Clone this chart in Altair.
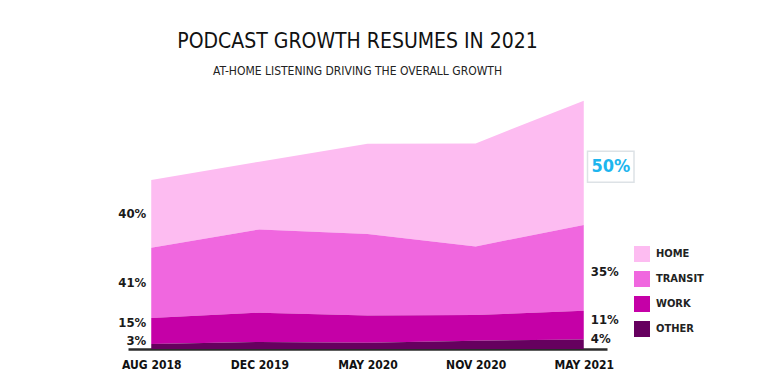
import altair as alt
import pandas as pd

periods = ["AUG 2018", "DEC 2019", "MAY 2020", "NOV 2020", "MAY 2021"]
series = ["HOME", "TRANSIT", "WORK", "OTHER"]
home = [67.7, 67.7, 90.3, 103.0, 124.3]
transit = [70.3, 83.3, 81.4, 68.6, 85.7]
work = [26.0, 29.3, 27.3, 25.7, 28.7]
other = [5.0, 7.0, 6.3, 8.3, 9.6]
colors = ["#FDBCF1", "#F067DF", "#C500A7", "#66005F"]

left_labels = ["40%", "41%", "15%", "3%"]
right_labels = ["50%", "35%", "11%", "4%"]

FONT = "'DejaVu Sans Condensed', 'DejaVu Sans', sans-serif"

vals = {"HOME": home, "TRANSIT": transit, "WORK": work, "OTHER": other}
stack_order = {"OTHER": 0, "WORK": 1, "TRANSIT": 2, "HOME": 3}

rows = []
for s in series:
    for i, p in enumerate(periods):
        rows.append({"period": p, "series": s, "value": vals[s][i], "ord": stack_order[s]})
df = pd.DataFrame(rows)

def mids(idx):
    out = {}
    base = 0.0
    for s in ["OTHER", "WORK", "TRANSIT", "HOME"]:
        v = vals[s][idx]
        out[s] = base + v / 2
        base += v
    return out

lm = mids(0)
rm = mids(len(periods) - 1)

x_enc = alt.X("period:N", sort=periods, scale=alt.Scale(type="point", padding=0.215),
              axis=alt.Axis(title=None, labelAngle=0, ticks=False, domainColor="#2b2b2b",
                            domainWidth=2.5, labelFont=FONT, labelFontSize=12,
                            labelFontWeight="bold", labelColor="#111", labelPadding=10, grid=False))
y_scale = alt.Scale(domain=[0, 260], nice=False)

area = alt.Chart(df).mark_area(interpolate="linear").encode(
    x=x_enc,
    y=alt.Y("value:Q", stack="zero", scale=y_scale, axis=None),
    color=alt.Color("series:N", scale=alt.Scale(domain=series, range=colors),
                    legend=alt.Legend(title=None, orient="none", legendX=506, legendY=157,
                                      symbolType="square", symbolSize=256, symbolStrokeWidth=0,
                                      symbolOpacity=1, rowPadding=9, labelOffset=6,
                                      labelFont=FONT, labelFontSize=11, labelFontWeight="bold",
                                      labelColor="#222")),
    order=alt.Order("ord:Q", sort="ascending"),
)

layers = [area]

left_dy = {"HOME": 0, "TRANSIT": 0, "WORK": -8, "OTHER": -6}
for s, t in zip(series, left_labels):
    d = pd.DataFrame({"period": [periods[0]], "y": [lm[s]], "t": [t]})
    layers.append(alt.Chart(d).mark_text(align="right", baseline="middle", dx=-5, dy=left_dy[s],
                                         font=FONT, fontSize=13, fontWeight="bold", color="#1a1a1a")
                  .encode(x=alt.X("period:N", sort=periods), y=alt.Y("y:Q", scale=y_scale), text="t:N"))

right_dy = {"TRANSIT": 4, "WORK": -5, "OTHER": -5}
for s, t in zip(series[1:], right_labels[1:]):
    d = pd.DataFrame({"period": [periods[-1]], "y": [rm[s]], "t": [t]})
    layers.append(alt.Chart(d).mark_text(align="left", baseline="middle", dx=7, dy=right_dy[s],
                                         font=FONT, fontSize=13, fontWeight="bold", color="#1a1a1a")
                  .encode(x=alt.X("period:N", sort=periods), y=alt.Y("y:Q", scale=y_scale), text="t:N"))

hd = pd.DataFrame({"period": [periods[-1]], "y": [rm["HOME"]], "t": [right_labels[0]]})
layers.append(alt.Chart(hd).mark_point(shape="M-1.5,-1H1.5V1H-1.5Z", size=961, filled=False,
                                       stroke="#DDE2E6", strokeWidth=1.5, opacity=1,
                                       xOffset=27, yOffset=4)
              .encode(x=alt.X("period:N", sort=periods), y=alt.Y("y:Q", scale=y_scale)))
layers.append(alt.Chart(hd).mark_text(align="center", baseline="middle", dx=27, dy=4,
                                      font=FONT, fontSize=18, fontWeight="bold", color="#1DB5EE")
              .encode(x=alt.X("period:N", sort=periods), y=alt.Y("y:Q", scale=y_scale), text="t:N"))

chart = alt.layer(*layers).properties(
    width=479, height=260,
    title=alt.Title("PODCAST GROWTH RESUMES IN 2021",
                    subtitle="AT-HOME LISTENING DRIVING THE OVERALL GROWTH",
                    font=FONT, fontSize=21, fontWeight="normal", color="#111",
                    subtitleFont=FONT, subtitleFontSize=12, subtitleColor="#222",
                    subtitlePadding=14, anchor="middle", dx=-10, offset=12),
    autosize=alt.AutoSizeParams(type="none"),
    padding={"left": 120, "top": 81, "right": 147, "bottom": 29},
).configure_view(stroke=None)

chart.save("out.html", embed_options={"renderer": "svg", "actions": False})
